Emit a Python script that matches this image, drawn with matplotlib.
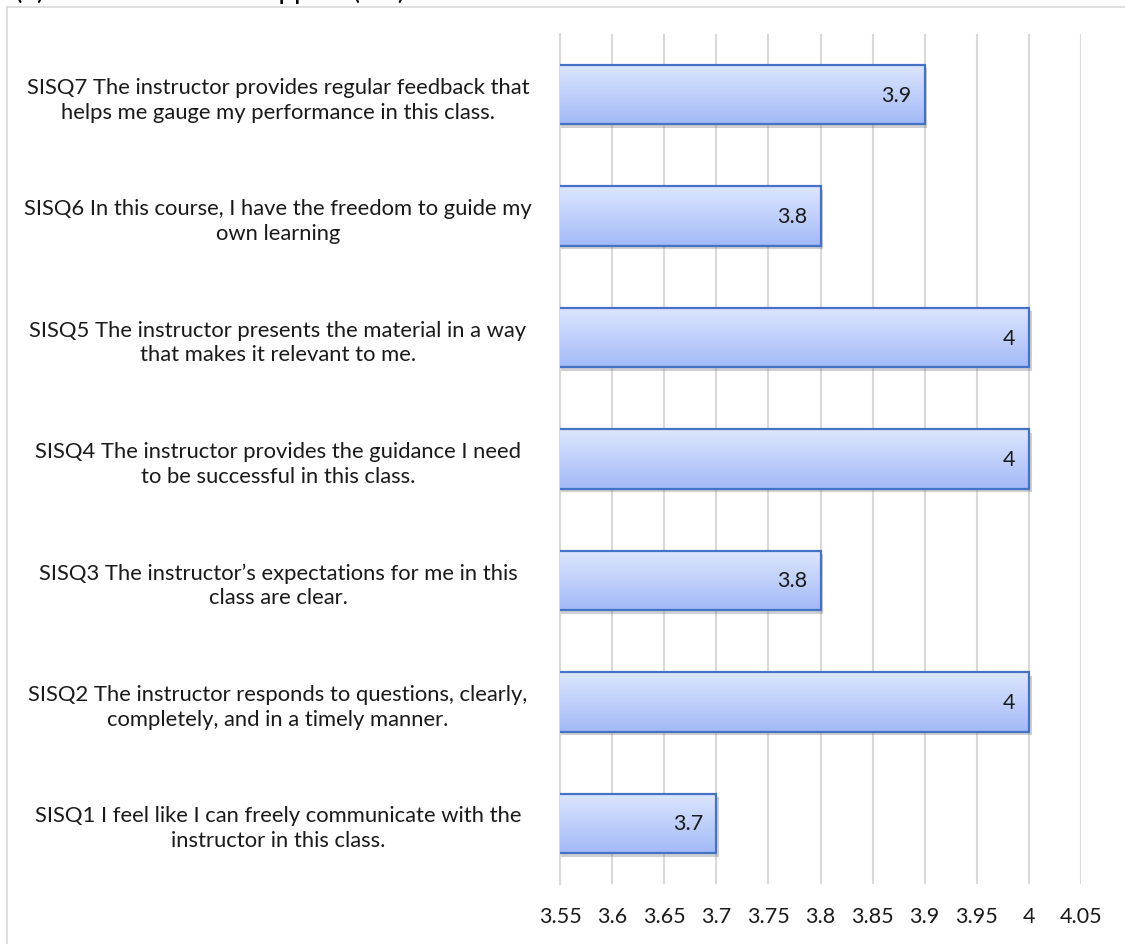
import numpy as np
import matplotlib.pyplot as plt
from matplotlib import patheffects
from matplotlib.colors import LinearSegmentedColormap
from matplotlib.lines import Line2D

plt.rcParams['font.family'] = ['Lato', 'DejaVu Sans']

questions = [
    "SISQ1 I feel like I can freely communicate with the\ninstructor in this class.",
    "SISQ2 The instructor responds to questions, clearly,\ncompletely, and in a timely manner.",
    "SISQ3 The instructor\u2019s expectations for me in this\nclass are clear.",
    "SISQ4 The instructor provides the guidance I need\nto be successful in this class.",
    "SISQ5 The instructor presents the material in a way\nthat makes it relevant to me.",
    "SISQ6 In this course, I have the freedom to guide my\nown learning",
    "SISQ7 The instructor provides regular feedback that\nhelps me gauge my performance in this class.",
]
scores = [3.7, 4, 3.8, 4, 4, 3.8, 3.9]
xticks = [3.55, 3.6, 3.65, 3.7, 3.75, 3.8, 3.85, 3.9, 3.95, 4, 4.05]
xmin, xmax = 3.55, 4.05

fig = plt.figure(figsize=(11.25, 9.45), dpi=100)
ax = fig.add_axes([560/1125, 60/945, (1081-560)/1125, (885-35)/945])

# light frame around the chart area
fig.add_artist(Line2D([7/1125, 1], [1-8/945, 1-8/945], color='#d9d9d9', lw=1.2))
fig.add_artist(Line2D([7/1125, 7/1125], [0, 1-8/945], color='#d9d9d9', lw=1.2))

# heading sits above the top edge, only its lower part shows
fig.text(15/1125, 1+1/945, "(b)", fontsize=20, va='baseline', ha='left')
fig.text(405/1125, 1+1/945, "Student Support (SIS)", fontsize=20, va='baseline', ha='right')

ypos = np.arange(len(questions))
h = 0.49
grad = LinearSegmentedColormap.from_list('bar', ['#a2baf7', '#dde6fe'])
g = np.linspace(0, 1, 100).reshape(-1, 1)

# shadow layer, then gradient fill, then outline
ax.barh(ypos, scores, height=h, color='white', zorder=2,
        path_effects=[patheffects.SimplePatchShadow(offset=(2, -2.5), shadow_rgbFace='#666666', alpha=0.3)])
for y, v in zip(ypos, scores):
    ax.imshow(g, cmap=grad, aspect='auto', origin='lower', zorder=3,
              extent=[xmin, v, y - h/2, y + h/2], interpolation='bicubic')
ax.barh(ypos, scores, height=h, facecolor='none', edgecolor='#4472c4', lw=1.6, zorder=4)

for y, v in zip(ypos, scores):
    ax.annotate(f"{v:g}", (v, y), xytext=(-9.5, 0), textcoords='offset points',
                ha='right', va='center', fontsize=15.5, color='#1a1a1a', zorder=5)

ax.set_xlim(xmin, xmax)
ax.set_ylim(-0.5, len(questions) - 0.5)
ax.set_xticks(xticks)
ax.set_xticklabels([f"{t:g}" for t in xticks], fontsize=15.5, color='#1a1a1a')
ax.set_yticks(ypos)
ax.set_yticklabels(questions, fontsize=15.8, ha='center', ma='center', linespacing=1.3,
                   color='#1a1a1a')
ax.tick_params(axis='y', length=0, pad=203)
ax.tick_params(axis='x', length=0, pad=16)
ax.grid(axis='x', color='#d9d9d9', lw=1.5, zorder=0)
ax.set_axisbelow(True)
for s in ['top', 'right', 'bottom']:
    ax.spines[s].set_visible(False)
ax.spines['left'].set_color('#d9d9d9')
ax.spines['left'].set_linewidth(1.5)

fig.savefig('out.png', dpi=100)
